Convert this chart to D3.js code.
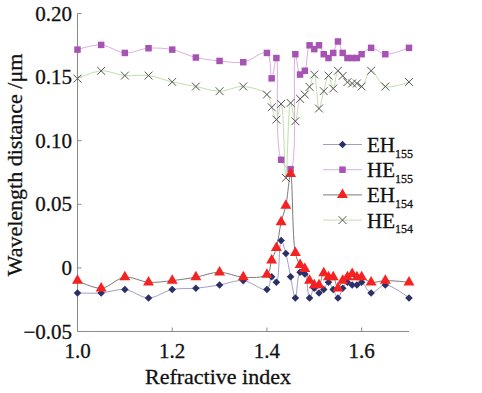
<!DOCTYPE html>
<html>
<head>
<meta charset="utf-8">
<script src="https://cdn.jsdelivr.net/npm/d3@7"></script>
<style>
  body { margin: 0; background: #fff; }
  text { font-family: 'Liberation Serif', serif; fill: #111; stroke: #111; stroke-width: 0.3px; }
</style>
</head>
<body>
<svg id="chart" width="482" height="393"></svg>
<script>
// refractive index values (HE155 has no point at 1.44)
let nAll = [1.00, 1.05, 1.10, 1.15, 1.20, 1.25, 1.30, 1.35, 1.40, 1.41, 1.42, 1.43, 1.44, 1.45, 1.46,
  1.47, 1.48, 1.49, 1.50, 1.51, 1.52, 1.53, 1.54, 1.55, 1.56, 1.57, 1.58, 1.59, 1.60, 1.62, 1.65, 1.70]
let nHE155 = nAll.filter(function (n) { return n !== 1.44 })

let eh155 = [-0.0197, -0.0197, -0.017, -0.0236, -0.017, -0.016, -0.0134, -0.010, -0.017, -0.007, -0.0113,
  0.0215, 0.0113, -0.007, -0.0236, -0.0034, -0.0047, -0.0236, -0.016, -0.0197, -0.017, -0.0113, -0.017,
  -0.0236, -0.016, -0.0113, -0.0134, -0.0134, -0.0113, -0.0197, -0.0134, -0.0236]
let he155 = [0.1716, 0.1753, 0.169, 0.1727, 0.1716, 0.1654, 0.1627, 0.1617, 0.169, 0.149, 0.165,
  0.085, 0.0776, 0.168, 0.152, 0.155, 0.175, 0.172, 0.175, 0.168, 0.165, 0.169, 0.178,
  0.169, 0.165, 0.165, 0.165, 0.168, 0.173, 0.168, 0.173]
let eh154 = [-0.010, -0.016, -0.0073, -0.0113, -0.010, -0.0073, -0.0034, -0.0073, -0.0052, 0.006, 0.0157,
  0.036, 0.049, 0.074, 0.0118, 0.0024, -0.0008, -0.010, -0.0136, -0.0136, -0.004, -0.0073, -0.0073,
  -0.016, -0.010, -0.0073, -0.0047, -0.0073, -0.0073, -0.0113, -0.010, -0.0113]
let he154 = [0.1488, 0.1549, 0.1512, 0.1512, 0.1462, 0.1426, 0.1389, 0.1426, 0.1363, 0.1263, 0.1166,
  0.1289, 0.0708, 0.1297, 0.1153, 0.1329, 0.1363, 0.1423, 0.152, 0.1253, 0.139, 0.1512, 0.141,
  0.155, 0.151, 0.146, 0.145, 0.145, 0.1426, 0.155, 0.1426, 0.1462]

let xTicks = [1.0, 1.2, 1.4, 1.6]
let yTicks = [-0.05, 0, 0.05, 0.10, 0.15, 0.20]
let yTickLabels = ['\u22120.05', '0', '0.05', '0.10', '0.15', '0.20']

// diamond = square turned by 45 degrees
let series = [
  {name: 'EH', sub: '155', n: nAll, v: eh155, line: '#a49cc4', mark: '#2b3068', symbol: d3.symbolSquare, size: 26, stroke: false, turn: 'rotate(45) scale(1.05)'},
  {name: 'HE', sub: '155', n: nHE155, v: he155, line: '#dcaee0', mark: '#a653b3', symbol: d3.symbolSquare, size: 42, stroke: false},
  {name: 'EH', sub: '154', n: nAll, v: eh154, line: '#7a7a7a', mark: '#f52222', symbol: d3.symbolTriangle, size: 52, stroke: false},
  {name: 'HE', sub: '154', n: nAll, v: he154, line: '#bfe0a8', mark: '#555', symbol: d3.symbolX, size: 42, stroke: true}
]

let svg = d3.select('#chart')
let x = d3.scaleLinear().domain([1.0, 1.7]).range([77.5, 409])
let y = d3.scaleLinear().domain([-0.05, 0.2]).range([331.5, 13.5])

// axes: gray lines, ticks pointing inward
let axisColor = '#8a8a8a'
svg.append('line')
    .attr('x1', x(1.0)).attr('x2', x(1.0))
    .attr('y1', y(0.2)).attr('y2', y(-0.05))
    .attr('stroke', axisColor)
svg.append('line')
    .attr('x1', x(1.0)).attr('x2', x(1.7))
    .attr('y1', y(-0.05)).attr('y2', y(-0.05))
    .attr('stroke', axisColor)

svg.selectAll('.ytick')
    .data(yTicks)
  .enter().append('line')
    .attr('x1', x(1.0)).attr('x2', x(1.0) + 4)
    .attr('y1', function (d) { return y(d) })
    .attr('y2', function (d) { return y(d) })
    .attr('stroke', axisColor)

svg.selectAll('.ylabel')
    .data(yTicks)
  .enter().append('text')
    .attr('x', 72)
    .attr('y', function (d) { return y(d) + 7 })
    .attr('text-anchor', 'end')
    .attr('font-size', 21)
    .text(function (d, i) { return yTickLabels[i] })

svg.selectAll('.xtick')
    .data(xTicks)
  .enter().append('line')
    .attr('x1', function (d) { return x(d) })
    .attr('x2', function (d) { return x(d) })
    .attr('y1', y(-0.05)).attr('y2', y(-0.05) - 4)
    .attr('stroke', axisColor)

svg.selectAll('.xlabel')
    .data(xTicks)
  .enter().append('text')
    .attr('x', function (d) { return x(d) })
    .attr('y', 358)
    .attr('text-anchor', 'middle')
    .attr('font-size', 21)
    .text(function (d) { return d.toFixed(1) })

svg.append('text')
    .attr('x', 218)
    .attr('y', 384)
    .attr('text-anchor', 'middle')
    .attr('font-size', 22)
    .text('Refractive index')

svg.append('text')
    .attr('transform', 'translate(22,165) rotate(-90)')
    .attr('text-anchor', 'middle')
    .attr('font-size', 22)
    .text('Wavelength distance /\u03bcm')

// smooth lines, then markers on top
let line = d3.line()
    .curve(d3.curveCatmullRom.alpha(0.5))
    .x(function (d) { return x(d[0]) })
    .y(function (d) { return y(d[1]) })

series.forEach(function (s) {
  s.points = s.n.map(function (n, i) { return [n, s.v[i]] })
  svg.append('path')
      .attr('d', line(s.points))
      .attr('fill', 'none')
      .attr('stroke', s.line)
      .attr('stroke-width', 1)
})

function drawMark (g, s) {
  let sym = d3.symbol().type(s.symbol).size(s.size)
  let m = g.append('path')
      .attr('d', sym())
      .attr('fill', s.stroke ? 'none' : s.mark)
      .attr('stroke', s.stroke ? s.mark : 'none')
      .attr('stroke-width', 1)
  if (s.turn) m.attr('transform', s.turn)
  return m
}

series.forEach(function (s) {
  s.points.forEach(function (p) {
    let g = svg.append('g').attr('transform', 'translate(' + x(p[0]) + ',' + y(p[1]) + ')')
    drawMark(g, s)
  })
})

// legend
let legend = svg.append('g').attr('transform', 'translate(323,144.5)')
series.forEach(function (s, i) {
  let row = legend.append('g').attr('transform', 'translate(0,' + i * 25.2 + ')')
  row.append('line')
      .attr('x1', 0).attr('x2', 39)
      .attr('stroke', s.line)
  let g = row.append('g').attr('transform', 'translate(19.5,0)')
  drawMark(g, s)
  let t = row.append('text')
      .attr('x', 44)
      .attr('y', 7.5)
      .attr('font-size', 21)
      .text(s.name)
  t.append('tspan')
      .attr('dy', 5.5)
      .attr('font-size', 12)
      .text(s.sub)
})
</script>
</body>
</html>
